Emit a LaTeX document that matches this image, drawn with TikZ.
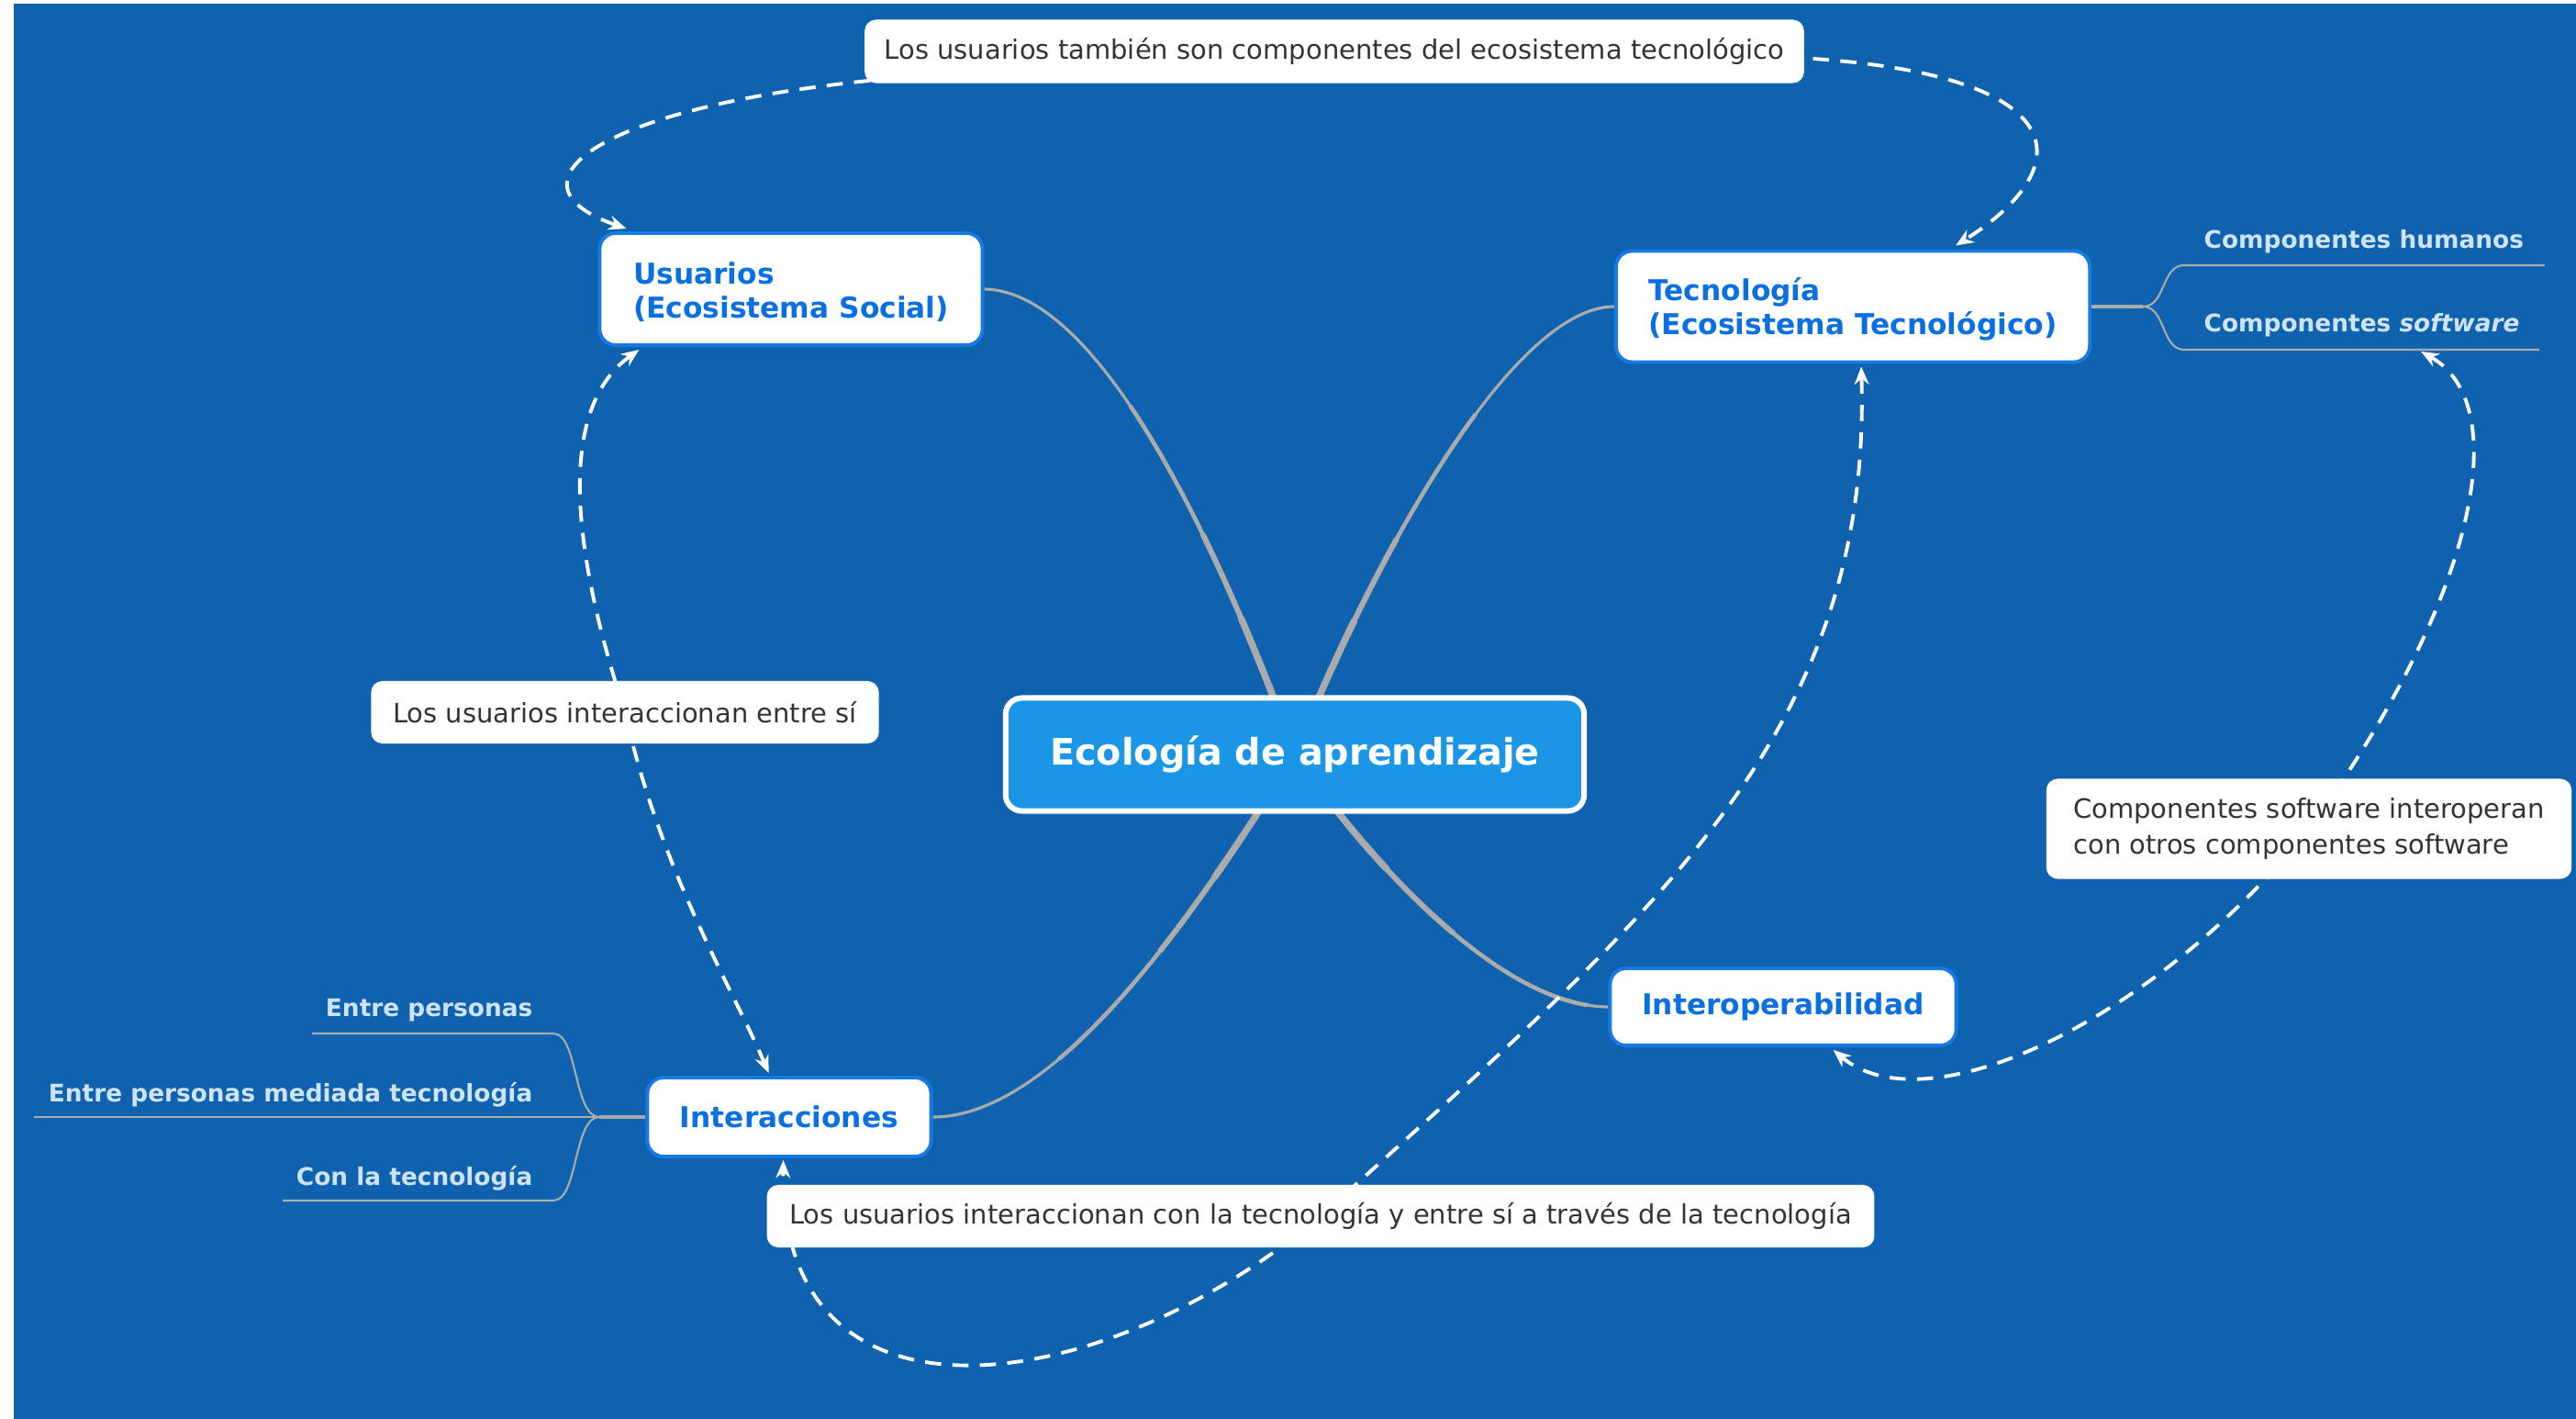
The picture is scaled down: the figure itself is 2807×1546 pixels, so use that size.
\documentclass[tikz,border=0pt]{standalone}
\usepackage{fontspec}
\setmainfont{DejaVu Sans}
\usetikzlibrary{arrows.meta,calc}
\definecolor{bgblue}{HTML}{0F62AE}
\definecolor{nodetext}{HTML}{0A70E2}
\definecolor{nodeborder}{HTML}{1878E4}
\definecolor{cfill}{HTML}{1B96E7}
\definecolor{linegray}{HTML}{ABABAB}
\definecolor{leaftext}{HTML}{CFE3F6}
\definecolor{notetext}{HTML}{333333}
\pgfdeclarelayer{bg}
\pgfsetlayers{bg,main}
\begin{document}
\begin{tikzpicture}[x=0.01cm,y=-0.01cm,
  central/.style={draw=white,line width=1.7pt,fill=cfill,rounded corners=5pt,text=white,
    font=\bfseries\fontsize{11.3}{13}\selectfont,inner sep=0pt},
  topic/.style={draw=nodeborder,line width=1.1pt,fill=white,rounded corners=5pt,text=nodetext,
    font=\bfseries\fontsize{8.9}{10.5}\selectfont,inner sep=0pt,align=left},
  note/.style={fill=white,rounded corners=3.5pt,text=notetext,
    font=\fontsize{8.25}{11}\selectfont,inner sep=0pt,align=center},
  leaf/.style={text=leaftext,font=\bfseries\fontsize{7.5}{9}\selectfont,inner sep=0pt},
  mainline/.style={draw=linegray,line width=0.9pt},
  leafline/.style={draw=linegray,line width=0.6pt},
  dline/.style={draw=white,line width=1.1pt,dash pattern=on 5pt off 3.5pt,
    {Stealth[length=5.5pt,width=4.5pt]}-{Stealth[length=5.5pt,width=4.5pt]}}
]
\useasboundingbox (0,0) rectangle (2807,1546);
\begin{pgfonlayer}{bg}
\fill[white] (0,0) rectangle (2807,1546);
\fill[bgblue] (15,4) rectangle (2807,1546);
\end{pgfonlayer}

% main nodes
\node[central,minimum width=6.30cm,minimum height=1.23cm] (eco) at (1411,822) {Ecología de aprendizaje};
\node[topic,minimum width=4.17cm,minimum height=1.22cm] (usu) at (862,315) {\rule{0pt}{0.31cm}Usuarios\\(Ecosistema Social)};
\node[topic,minimum width=5.16cm,minimum height=1.21cm] (tec) at (2019,334) {\rule{0pt}{0.31cm}Tecnología\\(Ecosistema Tecnológico)};
\node[topic,minimum width=3.09cm,minimum height=0.86cm,align=center] (int) at (860,1217) {Interacciones};
\node[topic,minimum width=3.77cm,minimum height=0.84cm,align=center] (iop) at (1943,1097) {Interoperabilidad};

% callouts
\node[note,minimum width=10.23cm,minimum height=0.69cm] (n1) at (1454,56) {Los usuarios también son componentes del ecosistema tecnológico};
\node[note,minimum width=5.53cm,minimum height=0.68cm] (n2) at (681,776) {Los usuarios interaccionan entre sí};
\node[note,minimum width=5.72cm,minimum height=1.09cm,align=left] (n3) at (2516,903) {Componentes software interoperan\\con otros componentes software};
\node[note,minimum width=12.06cm,minimum height=0.68cm] (n4) at (1439,1325) {Los usuarios interaccionan con la tecnología y entre sí a través de la tecnología};

% leaves
\node[leaf,anchor=west] (ch) at (2401,263) {Componentes humanos};
\node[leaf,anchor=west] (cs) at (2401,354) {Componentes \textit{software}};
\node[leaf,anchor=east] (ep) at (581,1101) {Entre personas};
\node[leaf,anchor=east] (em) at (581,1193) {Entre personas mediada tecnología};
\node[leaf,anchor=east] (ct) at (581,1284) {Con la tecnología};

\coordinate (tb) at (2335,334);
\coordinate (chl) at (2773,289);
\coordinate (csl) at (2767,381);
\coordinate (ib) at (653,1217);
\coordinate (epl) at (340,1126);
\coordinate (eml) at (37,1217);
\coordinate (ctl) at (308,1308);
\coordinate (swtip) at (2638,383);

\begin{pgfonlayer}{bg}
% main branches (tapered towards the centre)
\foreach \w/\r in {0.9/2000,1.3/420,1.7/260,2.1/160}{
  \begin{scope}
  \clip (eco.center) circle (\r);
  \draw[mainline,line width=\w pt] (usu.east) .. controls (1200,317) and (1330,600) .. (eco.center);
  \draw[mainline,line width=\w pt] (tec.west) .. controls (1650,334) and (1500,600) .. (eco.center);
  \draw[mainline,line width=\w pt] (int.east) .. controls (1150,1217) and (1300,1000) .. (eco.center);
  \draw[mainline,line width=\w pt] (iop.west) .. controls (1640,1097) and (1500,950) .. (eco.center);
  \end{scope}
}
% leaf brackets
\draw[leafline,line width=0.9pt] (tec.east) -- (tb);
\draw[leafline] (tb) .. controls (2360,334) and (2355,289) .. (2380,289) -- (chl);
\draw[leafline] (tb) .. controls (2360,334) and (2355,381) .. (2380,381) -- (csl);
\draw[leafline,line width=0.9pt] (int.west) -- (ib);
\draw[leafline] (ib) .. controls (625,1217) and (630,1126) .. (603,1126) -- (epl);
\draw[leafline] (ib) -- (eml);
\draw[leafline] (ib) .. controls (625,1217) and (630,1308) .. (603,1308) -- (ctl);
% dashed relations
\draw[dline] ([xshift=0.31cm,yshift=0.03cm]usu.north west) .. controls (540,200) and (650,110) .. (1002,83)
   -- (n1.center) -- (1960,63) .. controls (2260,80) and (2270,180) .. ([xshift=1.12cm,yshift=0.04cm]tec.north);
\draw[dline] ([xshift=0.45cm,yshift=-0.03cm]usu.south west) .. controls (600,450) and (630,620) .. (n2.center)
   .. controls (720,950) and (800,1080) .. ([xshift=1.34cm,yshift=0.03cm]int.north west);
\draw[dline] ([xshift=2.69cm,yshift=-0.03cm]tec.south west) .. controls (2040,800) and (1800,1000) .. (n4.center)
   .. controls (1200,1525) and (850,1575) .. ([xshift=1.50cm,yshift=-0.02cm]int.south west);
\draw[dline] (swtip) .. controls (2740,440) and (2700,650) .. (n3.center)
   .. controls (2350,1110) and (2100,1230) .. ([xshift=2.45cm,yshift=-0.03cm]iop.south west);
\end{pgfonlayer}
\end{tikzpicture}
\end{document}
